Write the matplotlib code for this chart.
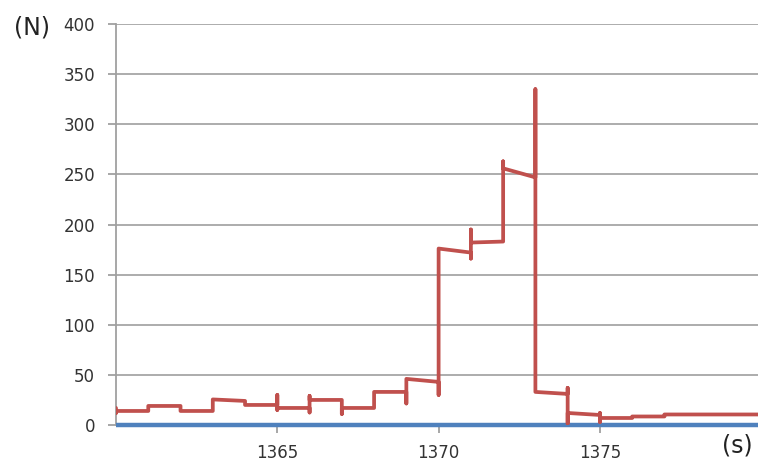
import matplotlib
matplotlib.use("Agg")
import matplotlib.pyplot as plt

# Force series (N) as a polyline: times (s) and values (N)
force_time = [1360, 1360, 1360, 1361, 1361, 1362, 1362, 1363, 1363, 1364, 1364,
              1365, 1365, 1365, 1365, 1366, 1366, 1366, 1366,
              1367, 1367, 1367, 1368, 1368, 1369, 1369, 1369, 1370, 1370, 1370,
              1371, 1371, 1371, 1371, 1372, 1372, 1372, 1373, 1373, 1373,
              1374, 1374, 1374, 1374, 1375, 1375, 1375, 1375,
              1376, 1376, 1377, 1377, 1379.9]
force_value = [17, 12, 14, 14, 19, 19, 14, 14, 25.5, 24, 20,
               20, 30, 15, 17, 17, 12.5, 29, 25,
               25, 11, 17, 17, 33, 33, 21.5, 46, 43, 30, 176,
               172, 166, 195, 182, 183, 263, 256, 247, 335, 33,
               31, 37, 1.5, 12, 10, 12, 3, 7,
               7, 8.5, 8.5, 10.5, 10.5]

# Baseline series (zero)
base_time = [1360, 1379.9]
base_value = [0, 0]

y_ticks = [0, 50, 100, 150, 200, 250, 300, 350, 400]
x_ticks = [1365, 1370, 1375]

fig = plt.figure(figsize=(7.58, 4.63), dpi=100)
ax = fig.add_axes([116/758, 38/463, 1 - 116/758, (425-24)/463])

ax.plot(base_time, base_value, color="#4F81BD", linewidth=3.2, solid_capstyle="butt",
        clip_on=False, zorder=3)
ax.plot(force_time, force_value, color="#C0504D", linewidth=2.7, solid_joinstyle="round",
        solid_capstyle="round", zorder=4)

ax.set_xlim(1360, 1379.9)
ax.set_ylim(0, 400)
ax.set_yticks(y_ticks)
ax.set_xticks(x_ticks)
ax.set_yticklabels([str(v) for v in y_ticks])
ax.set_xticklabels([str(v) for v in x_ticks])

ax.grid(axis="y", color="#A6A6A6", linewidth=1.3)
ax.set_axisbelow(True)
for s in ["top", "right", "bottom"]:
    ax.spines[s].set_visible(False)
ax.spines["left"].set_color("#A0A0A0")
ax.spines["left"].set_linewidth(1.3)

ax.tick_params(axis="y", direction="out", length=6, width=1.3, color="#A0A0A0",
               labelsize=12, labelcolor="#333333", pad=9)
ax.tick_params(axis="x", direction="out", length=6, width=1.3, color="#A0A0A0",
               labelsize=12, labelcolor="#333333", pad=8)

fig.text(32/758, 1 - 27/463, "(N)", fontsize=17, color="#222222", ha="center", va="center")
fig.text(737/758, 1 - 446/463, "(s)", fontsize=17, color="#222222", ha="center", va="center")

fig.savefig("out.png", dpi=100)
